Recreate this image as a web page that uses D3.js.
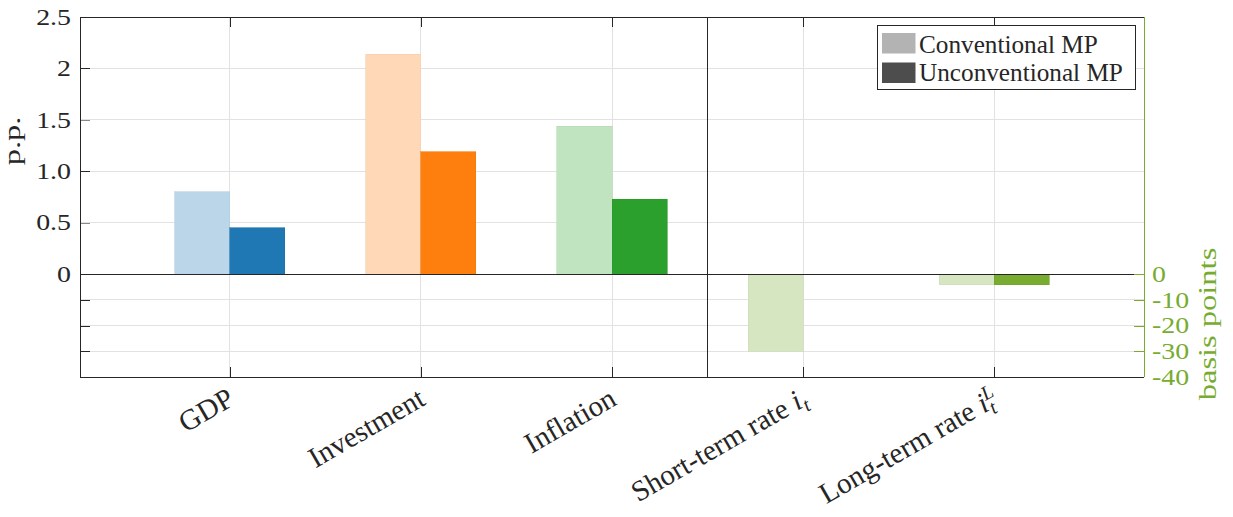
<!DOCTYPE html>
<html><head><meta charset="utf-8">
<script src="https://cdn.jsdelivr.net/npm/d3@7"></script>
<style>
body{margin:0;background:#fff;}
svg{display:block;}
</style>
</head><body>
<svg id="chart" width="1233" height="517"></svg>
<script>
// ---------- data ----------
const categories = ["GDP", "Investment", "Inflation", "Short-term rate", "Long-term rate"];
const ppCategories = ["GDP", "Investment", "Inflation"];          // left axis, p.p.
const conventionalPP = [0.80, 2.14, 1.44];
const unconventionalPP = [0.45, 1.19, 0.73];
const bpCategories = ["Short-term rate", "Long-term rate"];       // right axis, basis points
const conventionalBP = [-30, -4.2];
const unconventionalBP = [0, -4.2];
const leftTicks = [2.5, 2, 1.5, 1.0, 0.5, 0, -0.25, -0.5, -0.75];
const leftTickLabels = ["2.5", "2", "1.5", "1.0", "0.5", "0", "", "", ""];
const rightTicks = [0, -10, -20, -30, -40];
const rightTickLabels = ["0", "-10", "-20", "-30", "-40"];
const seriesNames = ["Conventional MP", "Unconventional MP"];

// ---------- styles ----------
const FONT = "'Liberation Serif', 'DejaVu Serif', serif";
const lightColors = ["#bcd6e9", "#ffd8b7", "#c0e3c0", "#d6e6c1", "#d6e6c1"];
const darkColors = ["#1f77b4", "#ff7f0e", "#2ca02c", "#77ac30", "#77ac30"];
const legendColors = ["#b3b3b3", "#4d4d4d"];
const axisColor = "#262626";
const gridColor = "#e2e2e2";
const rightColor = "#77ac30";

const svg = d3.select("#chart").style("font-family", FONT);
const L = 80, R = 1144, T = 17, B = 377;
const x = d3.scaleLinear().domain([0.215, 5.785]).range([L, R]);
const yL = d3.scaleLinear().domain([-1, 2.5]).range([B, T]);
const yR = d3.scaleLinear().domain([-40, 100]).range([B, T]);
const barW = 0.288;
const catPos = c => categories.indexOf(c) + 1;

// grid
const grid = svg.append("g").attr("shape-rendering", "crispEdges");
grid.selectAll("line.h").data(leftTicks.filter(d => d !== 0 && d !== 2.5)).join("line")
  .attr("x1", L).attr("x2", R).attr("y1", d => yL(d)).attr("y2", d => yL(d))
  .attr("stroke", gridColor).attr("stroke-width", 1);
grid.selectAll("line.v").data(categories).join("line")
  .attr("x1", d => x(catPos(d))).attr("x2", d => x(catPos(d))).attr("y1", T).attr("y2", B)
  .attr("stroke", gridColor).attr("stroke-width", 1);

// bars
const bars = svg.append("g").attr("shape-rendering", "crispEdges");
function bar(cat, val, scale, series) {
  const c = catPos(cat);
  const x0 = series === 0 ? x(c - barW) : x(c);
  const x1 = series === 0 ? x(c) : x(c + barW);
  const y0 = scale(Math.max(val, 0)), y1 = scale(Math.min(val, 0));
  if (y1 - y0 < 0.5) return;
  const idx = categories.indexOf(cat);
  const col = series === 0 ? lightColors[idx] : darkColors[idx];
  bars.append("rect").attr("x", x0).attr("y", y0).attr("width", x1 - x0).attr("height", y1 - y0)
    .attr("fill", col).attr("stroke", d3.color(col).darker(0.12)).attr("stroke-width", 0.6);
}
ppCategories.forEach((c, i) => { bar(c, conventionalPP[i], yL, 0); bar(c, unconventionalPP[i], yL, 1); });
bpCategories.forEach((c, i) => { bar(c, conventionalBP[i], yR, 0); bar(c, unconventionalBP[i], yR, 1); });

// zero line & separator
const ln = svg.append("g").attr("shape-rendering", "crispEdges");
ln.append("line").attr("x1", L).attr("x2", R).attr("y1", yL(0)).attr("y2", yL(0)).attr("stroke", axisColor);
ln.append("line").attr("x1", x(3.5)).attr("x2", x(3.5)).attr("y1", T).attr("y2", B).attr("stroke", axisColor);

// axes
const tickFont = 22.5, tickSX = 1.24;
const gL = svg.append("g").attr("transform", `translate(${L},0)`)
  .call(d3.axisLeft(yL).tickValues(leftTicks).tickSize(-10).tickSizeOuter(0).tickPadding(9)
    .tickFormat((d, i) => leftTickLabels[i]));
gL.selectAll(".tick line").attr("stroke", d => (d % 1 !== 0 && d > 0) ? "#8a8a8a" : axisColor);
gL.selectAll(".tick text").attr("x", 0).attr("transform", "translate(-9,0) scale(" + tickSX + ",1)")
  .style("font-size", tickFont + "px").attr("fill", axisColor);
gL.select(".domain").remove();

const gR = svg.append("g").attr("transform", `translate(${R},0)`)
  .call(d3.axisRight(yR).tickValues(rightTicks).tickSize(-10).tickSizeOuter(0).tickPadding(8)
    .tickFormat((d, i) => rightTickLabels[i]));
gR.selectAll(".tick line").attr("stroke", rightColor);
gR.selectAll(".tick text").attr("x", 0).attr("transform", "translate(8,0) scale(" + tickSX + ",1)")
  .style("font-size", tickFont + "px").attr("fill", rightColor);
gR.select(".domain").remove();

const gB = svg.append("g").attr("transform", `translate(0,${B})`)
  .call(d3.axisBottom(x).tickValues([1, 2, 3, 4, 5]).tickSize(-10).tickSizeOuter(0).tickFormat(""));
const gT = svg.append("g").attr("transform", `translate(0,${T})`)
  .call(d3.axisTop(x).tickValues([1, 2, 3, 4, 5]).tickSize(-10).tickSizeOuter(0).tickFormat(""));
[gB, gT].forEach(g => { g.select(".domain").remove(); g.selectAll(".tick line").attr("stroke", axisColor); });
svg.selectAll(".tick line").attr("shape-rendering", "crispEdges");

// frame
const fr = svg.append("g").attr("shape-rendering", "crispEdges");
fr.append("line").attr("x1", L).attr("x2", L).attr("y1", T).attr("y2", B).attr("stroke", axisColor);
fr.append("line").attr("x1", L).attr("x2", R).attr("y1", B).attr("y2", B).attr("stroke", axisColor);
fr.append("line").attr("x1", L).attr("x2", R).attr("y1", T).attr("y2", T).attr("stroke", axisColor);
fr.append("line").attr("x1", R).attr("x2", R).attr("y1", T).attr("y2", B).attr("stroke", rightColor);

// x labels
const xl = svg.append("g");
categories.forEach((c, i) => {
  const g = xl.append("g").attr("transform", `translate(${x(i + 1) + 6},404) rotate(-30)`);
  const t = g.append("text").attr("text-anchor", "end").style("font-size", "29px").attr("fill", axisColor);
  if (c === "Short-term rate") {
    t.append("tspan").text(c + " ");
    t.append("tspan").attr("font-style", "italic").text("i");
    t.append("tspan").attr("font-style", "italic").style("font-size", "20px").attr("dy", 6).text("t");
  } else if (c === "Long-term rate") {
    t.append("tspan").text(c + " ");
    t.append("tspan").attr("font-style", "italic").text("i");
    t.append("tspan").attr("font-style", "italic").style("font-size", "20px").attr("dy", 6).text("t");
    t.append("tspan").attr("font-style", "italic").style("font-size", "20px").attr("dx", -6).attr("dy", -16).text("L");
  } else {
    t.text(c);
  }
});

// axis labels
svg.append("g").attr("transform", "translate(20,141) scale(1,1.35) rotate(-90)")
  .append("text").attr("text-anchor", "middle").style("font-size", "24px").attr("fill", axisColor).text("p.p.");
svg.append("g").attr("transform", "translate(1216,324) scale(1,1.3) rotate(-90)")
  .append("text").attr("text-anchor", "middle").style("font-size", "25px").attr("fill", rightColor)
  .text("basis points");

// legend
const lg = svg.append("g");
lg.append("rect").attr("x", 877.5).attr("y", 25.5).attr("width", 258).attr("height", 64)
  .attr("fill", "#fff").attr("stroke", axisColor).attr("stroke-width", 1);
seriesNames.forEach((n, i) => {
  lg.append("rect").attr("x", 882).attr("y", 33 + i * 29.5).attr("width", 33.5).attr("height", 20.5)
    .attr("fill", legendColors[i]);
  lg.append("g").attr("transform", `translate(919,${52.5 + i * 28.5}) scale(1.03,1.04)`)
    .append("text").style("font-size", "24.5px").attr("fill", axisColor).text(n);
});

// force the serif family on every text (axis groups set their own family attribute)
svg.selectAll("g").attr("font-family", null);
svg.selectAll("text").style("font-family", FONT);
</script>
</body></html>
